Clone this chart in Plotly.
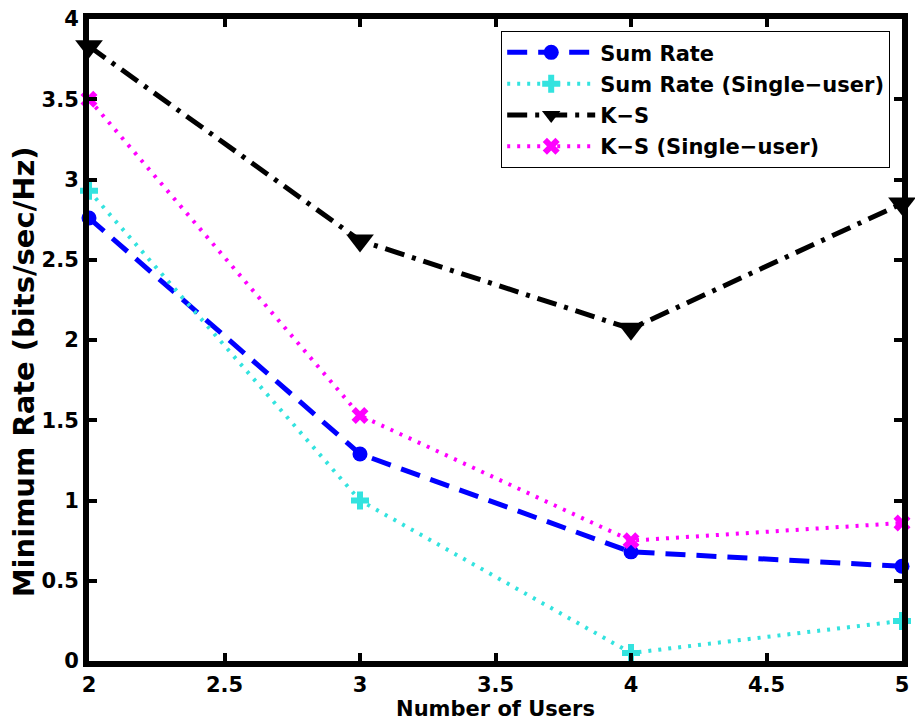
import plotly.graph_objects as go

users = [2, 3, 4, 5]
sum_rate = [2.76, 1.29, 0.68, 0.59]
sum_rate_single = [2.93, 1.00, 0.05, 0.25]
ks = [3.83, 2.62, 2.07, 2.85]
ks_single = [3.50, 1.53, 0.75, 0.86]

x_ticks = [2, 2.5, 3, 3.5, 4, 4.5, 5]
x_labels = ["2", "2.5", "3", "3.5", "4", "4.5", "5"]
y_ticks = [0, 0.5, 1, 1.5, 2, 2.5, 3, 3.5, 4]
y_labels = ["0", "0.5", "1", "1.5", "2", "2.5", "3", "3.5", "4"]

names = ["Sum Rate", "Sum Rate (Single\u2212user)", "K\u2212S", "K\u2212S (Single\u2212user)"]
series = [sum_rate, sum_rate_single, ks, ks_single]
colors = ["#0000FF", "#33E3DF", "#000000", "#FF00FF"]
dashes = ["20px,11px", "3px,7px", "20px,8px,4px,8px", "3px,7px"]
widths = [5, 4, 5, 4]
symbols = ["circle", "cross", "triangle-down", "x"]
msizes = [15, 15, 24, 15]

FONT = "DejaVu Sans"

fig = go.Figure()
for i, (n, s, c, d, w, sym, ms) in enumerate(zip(names, series, colors, dashes, widths, symbols, msizes)):
    fig.add_trace(go.Scatter(
        x=users, y=s, name=n, mode="lines+markers", legendgroup=f"g{i}",
        line=dict(color=c, dash=d, width=w),
        marker=dict(symbol=sym, size=ms, color=c, line=dict(width=0)),
        cliponaxis=False,
    ))

axis_common = dict(
    showline=True, linecolor="black", linewidth=6, mirror="ticks",
    ticks="inside", ticklen=8, tickwidth=4, tickcolor="black",
    showgrid=False, zeroline=False,
    tickfont=dict(family=FONT, size=21, color="black", weight="bold"),
)

fig.update_layout(
    width=915, height=727,
    margin=dict(l=89, r=7, t=15, b=66),
    paper_bgcolor="white", plot_bgcolor="white",
    font=dict(family=FONT, color="black", weight="bold"),
    xaxis=dict(range=[2, 5], tickvals=x_ticks, ticktext=x_labels,
               title=dict(text="Number of Users",
                          font=dict(family=FONT, size=21, weight="bold"), standoff=4),
               **axis_common),
    yaxis=dict(range=[0, 4], tickvals=y_ticks, ticktext=y_labels, **axis_common),
    annotations=[dict(
        text="Minimum Rate (bits/sec/Hz)", textangle=-90,
        xref="paper", yref="paper", x=-0.0806, y=0.4505,
        xanchor="center", yanchor="middle", showarrow=False,
        font=dict(family=FONT, size=29, color="black", weight="bold"),
    )],
    legend=dict(x=0.507, y=0.981, xanchor="left", yanchor="top",
                bgcolor="white", bordercolor="black", borderwidth=1,
                font=dict(family=FONT, size=21, color="black", weight="bold"),
                tracegroupgap=1, itemwidth=88),
    showlegend=True,
)

fig.write_html("out.html")
